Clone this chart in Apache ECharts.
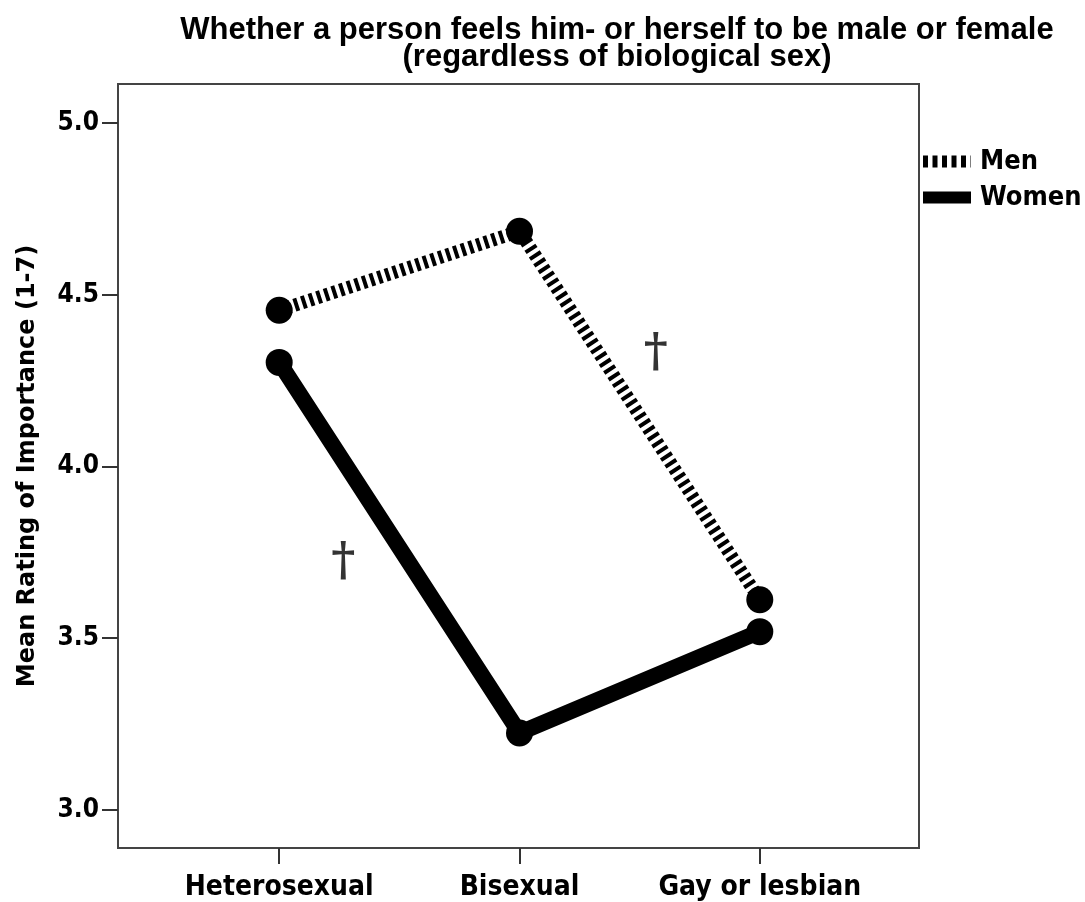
<!DOCTYPE html>
<html>
<head>
<meta charset="utf-8">
<script src="https://cdn.jsdelivr.net/npm/echarts@6/dist/echarts.min.js"></script>
<style>
html,body{margin:0;padding:0;background:#fff;}
#chart{width:1085px;height:902px;}
</style>
</head>
<body>
<div id="chart"></div>
<script>
// ---- data ----
const titleLines = ['Whether a person feels him- or herself to be male or female', '(regardless of biological sex)'];
const categories = ['Heterosexual', 'Bisexual', 'Gay or lesbian'];
const seriesNames = ['Men', 'Women'];
const menValues = [4.455, 4.685, 3.612];
const womenValues = [4.303, 3.224, 3.519];
const yTicks = [3.0, 3.5, 4.0, 4.5, 5.0];
const yAxisName = 'Mean Rating of Importance (1-7)';
// dagger annotations: [category position, value]
const daggerX = [1.567, 0.267];
const daggerY = [4.327, 3.72];
const daggerText = '\u2020';

// ---- build ----
const catIdx = categories.map((c, i) => i);
const toPairs = vals => vals.map((v, i) => [catIdx[i], v]);
const FONT = 'DejaVu Sans Condensed';

const chart = echarts.init(document.getElementById('chart'), null, {renderer: 'canvas'});
chart.setOption({
  backgroundColor: '#fff',
  animation: false,
  title: {
    text: titleLines.join('\n'),
    left: 612, top: 12, textAlign: 'center',
    textStyle: {fontFamily: 'Liberation Sans', fontWeight: 'bold', fontSize: 31, lineHeight: 27, color: '#000'}
  },
  legend: {
    orient: 'vertical', left: 917, top: 148, padding: 0,
    itemWidth: 48, itemHeight: 12, itemGap: 9,
    data: [
      {name: seriesNames[0], lineStyle: {type: [5, 4.5]}},
      {name: seriesNames[1]}
    ],
    itemStyle: {opacity: 0},
    lineStyle: {width: 12, cap: 'butt'},
    textStyle: {fontFamily: FONT, fontWeight: 'bold', fontSize: 27, color: '#000', padding: [0, 0, 0, 4]}
  },
  grid: {left: 118, right: 166, top: 84, bottom: 54, show: true, borderColor: '#444', borderWidth: 2, backgroundColor: '#fff'},
  xAxis: {
    type: 'value',
    min: -0.6708, max: 2.6625,
    splitLine: {show: false},
    axisLine: {onZero: false, lineStyle: {color: '#444', width: 2}},
    axisTick: {show: true, customValues: catIdx, length: 16, lineStyle: {color: '#333', width: 2}},
    axisLabel: {
      customValues: catIdx,
      formatter: v => categories[Math.round(v)],
      margin: 26, color: '#000',
      fontFamily: FONT, fontWeight: 'bold', fontSize: 28
    }
  },
  yAxis: {
    type: 'value',
    min: 2.889, max: 5.1137,
    name: yAxisName, nameLocation: 'middle', nameGap: 78, nameRotate: 90,
    nameTextStyle: {fontFamily: 'DejaVu Sans', fontWeight: 'bold', fontSize: 24, color: '#000'},
    splitLine: {show: false},
    axisLine: {show: true, onZero: false, lineStyle: {color: '#444', width: 2}},
    axisTick: {show: true, customValues: yTicks, length: 16, lineStyle: {color: '#333', width: 2}},
    axisLabel: {
      customValues: yTicks,
      formatter: v => Number(v).toFixed(1),
      margin: 19, color: '#000',
      fontFamily: FONT, fontWeight: 'bold', fontSize: 26
    }
  },
  series: [
    {
      name: seriesNames[0], type: 'line', data: toPairs(menValues),
      symbol: 'circle', symbolSize: 27,
      itemStyle: {color: '#000'},
      lineStyle: {color: '#000', width: 13, type: [4, 4], cap: 'butt'},
      z: 3
    },
    {
      name: seriesNames[1], type: 'line', data: toPairs(womenValues),
      symbol: 'circle', symbolSize: 27,
      itemStyle: {color: '#000'},
      lineStyle: {color: '#000', width: 16, type: 'solid'},
      z: 4
    },
    {
      name: 'annotations', type: 'scatter',
      data: daggerX.map((x, i) => [x, daggerY[i]]),
      symbolSize: 1, itemStyle: {color: 'rgba(0,0,0,0)'},
      label: {show: true, position: 'inside', formatter: daggerText,
        fontFamily: 'DejaVu Serif', fontWeight: 'bold', fontSize: 46, color: '#000'},
      silent: true, z: 5
    }
  ]
});
</script>
</body>
</html>
